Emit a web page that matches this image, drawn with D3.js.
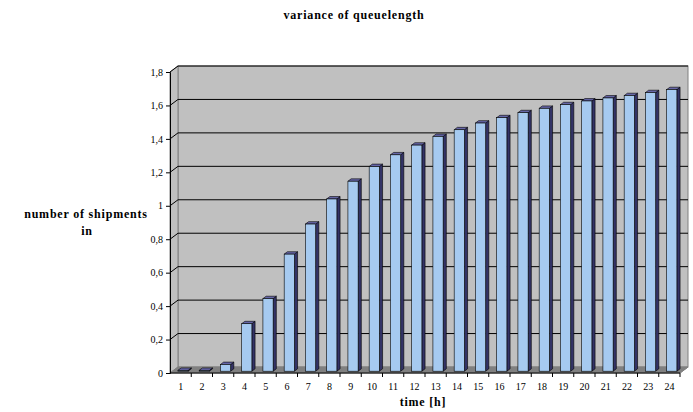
<!DOCTYPE html>
<html>
<head>
<meta charset="utf-8">
<script src="https://cdn.jsdelivr.net/npm/d3@7"></script>
<style>
  body { margin: 0; background: #fff; }
</style>
</head>
<body>
<div id="chart"></div>
<script>
// hours on the x axis and the variance
const hours = d3.range(1, 25).map(String);
const variance = [0.005, 0.005, 0.04, 0.284, 0.434, 0.70, 0.88, 1.03, 1.136, 1.224, 1.294, 1.352,
  1.404, 1.444, 1.484, 1.516, 1.546, 1.572, 1.594, 1.616, 1.634, 1.648, 1.666, 1.684];
const yTicks = [0, 0.2, 0.4, 0.6, 0.8, 1, 1.2, 1.4, 1.6, 1.8];

const width = 693, height = 412;
const plotLeft = 170, plotRight = 680, plotTop = 72, plotBottom = 373;
const dx = 8, dy = -6; // depth of the 3d box
const serif = "Tinos, 'Liberation Serif', 'DejaVu Serif', serif";

const svg = d3.select("#chart").append("svg")
  .attr("width", width).attr("height", height)
  .style("font-family", serif);

const x = d3.scaleBand().domain(hours).range([plotLeft, plotRight]).paddingInner(0.52).paddingOuter(0.26);
const y = d3.scaleLinear().domain([0, 1.8]).range([plotBottom, plotTop]);

// back wall
svg.append("rect")
  .attr("x", plotLeft + dx).attr("y", plotTop + dy)
  .attr("width", plotRight - plotLeft).attr("height", plotBottom - plotTop)
  .attr("fill", "#c0c0c0").attr("stroke", "#808080");

// side wall
svg.append("path")
  .attr("d", `M${plotLeft},${plotTop}L${plotLeft + dx},${plotTop + dy}L${plotLeft + dx},${plotBottom + dy}L${plotLeft},${plotBottom}Z`)
  .attr("fill", "#c0c0c0").attr("stroke", "#808080");

// floor
svg.append("path")
  .attr("d", `M${plotLeft},${plotBottom}L${plotLeft + dx},${plotBottom + dy}L${plotRight + dx},${plotBottom + dy}L${plotRight},${plotBottom}Z`)
  .attr("fill", "#808080").attr("stroke", "#808080");

// gridlines on the walls
yTicks.filter(t => t > 0).forEach(t => {
  const yy = y(t);
  svg.append("path")
    .attr("d", `M${plotLeft},${yy}L${plotLeft + dx},${yy + dy}L${plotRight + dx},${yy + dy}`)
    .attr("fill", "none").attr("stroke", "#000").attr("stroke-width", 1);
});

// bars
const f0 = 0.3, f1 = 0.7; // front and back depth of the bars
const barG = svg.append("g");
hours.forEach((h, i) => {
  const x0 = x(h) + dx * f0, w = x.bandwidth();
  const y0 = y(variance[i]) + dy * f0, yb = plotBottom + dy * f0;
  const ddx = dx * (f1 - f0), ddy = dy * (f1 - f0);
  // side
  barG.append("path")
    .attr("d", `M${x0 + w},${y0}L${x0 + w + ddx},${y0 + ddy}L${x0 + w + ddx},${yb + ddy}L${x0 + w},${yb}Z`)
    .attr("fill", "#333366").attr("stroke", "#000").attr("stroke-width", 0.6);
  // top
  barG.append("path")
    .attr("d", `M${x0},${y0}L${x0 + ddx},${y0 + ddy}L${x0 + w + ddx},${y0 + ddy}L${x0 + w},${y0}Z`)
    .attr("fill", "#6666a8").attr("stroke", "#000").attr("stroke-width", 0.6);
  // front
  barG.append("rect")
    .attr("x", x0).attr("y", y0).attr("width", w).attr("height", yb - y0)
    .attr("fill", "#a6caf0").attr("stroke", "#000").attr("stroke-width", 0.6);
});

// y axis
const yAxis = svg.append("g")
  .attr("transform", `translate(${plotLeft},0)`)
  .call(d3.axisLeft(y).tickValues(yTicks).tickSize(4).tickPadding(3)
    .tickFormat(d => String(d).replace(".", ",")))
  .attr("font-family", null).attr("font-size", 10);
yAxis.select(".domain").attr("stroke", "#000");

// x axis
const xAxis = svg.append("g")
  .attr("transform", `translate(0,${plotBottom})`)
  .call(d3.axisBottom(x).tickSize(0).tickPadding(10))
  .attr("font-family", null).attr("font-size", 10);
xAxis.select(".domain").attr("d", `M${plotLeft},0H${plotRight}`).attr("stroke", "#000");
hours.forEach((h, i) => {
  const xx = plotLeft + (i + 1) * (plotRight - plotLeft) / hours.length;
  xAxis.append("line").attr("x1", xx).attr("x2", xx).attr("y1", 0).attr("y2", 4).attr("stroke", "#000");
});
svg.append("line")
  .attr("x1", plotRight).attr("y1", plotBottom).attr("x2", plotRight + dx).attr("y2", plotBottom + dy)
  .attr("stroke", "#808080");

// titles
const addTitle = (tx, ty, s) => svg.append("text").attr("x", tx).attr("y", ty)
  .attr("text-anchor", "middle")
  .attr("font-size", 12).attr("font-weight", "bold")
  .attr("letter-spacing", 0.8).text(s);
addTitle(354, 19, "variance of queuelength");
addTitle(86, 218, "number of shipments");
addTitle(87, 235, "in");
addTitle(423, 406, "time  [h]");
</script>
</body>
</html>
